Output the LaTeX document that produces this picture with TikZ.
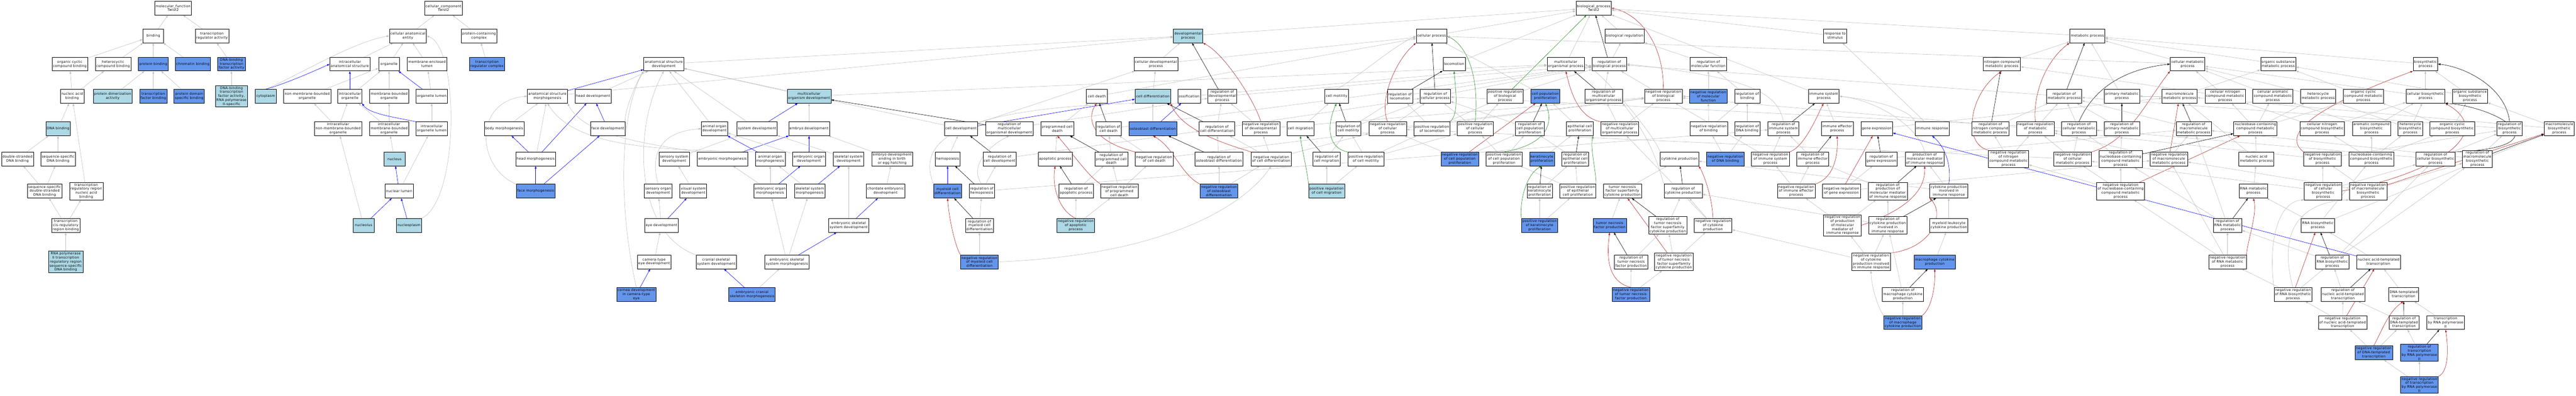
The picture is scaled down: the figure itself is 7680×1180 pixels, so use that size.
\documentclass[tikz,border=0pt]{standalone}
\usepackage{fontspec}
\setmainfont{DejaVu Sans}[LetterSpace=5]
\usepackage{tikz}
\usetikzlibrary{arrows.meta, backgrounds}
\definecolor{lightblue}{HTML}{ADD8E6}
\definecolor{cornflower}{HTML}{6495ED}
\definecolor{edgegray}{HTML}{BEBEBE}
\definecolor{firebrick}{HTML}{B22222}
\definecolor{forestgreen}{HTML}{228B22}
\newcommand{\termfont}{\fontsize{10}{12}\selectfont}
\tikzstyle{term} =
[rectangle, minimum width = 62pt, minimum height = 41pt, inner xsep = 3pt,
inner ysep = 3pt, align = center, font = \termfont, draw=black, line width = 0.8pt, fill=white]
\tikzstyle{termlb} = [term, fill=lightblue]
\tikzstyle{termcb} = [term, fill=cornflower]
\tikzstyle{isa} = [draw=edgegray, line width = 0.9pt, -{Latex[length=8pt,width=6pt]}]
\tikzstyle{partof} = [isa, draw=blue]
\tikzstyle{reg} = [isa, draw=black]
\tikzstyle{negreg} = [isa, draw=firebrick]
\tikzstyle{posreg} = [isa, draw=forestgreen]
\begin{document}
\begin{tikzpicture}[x=1pt, y=-1pt]
  \useasboundingbox (0,0) rectangle (7680,1180);
  % molecular function nodes
  \node [term] (mf) at (516,24) {molecular\_function\\Twist2};
  \node [term] (binding) at (457,107) {binding};
  \node [term] (tra) at (632,107) {transcription\\regulator activity};
  \node [term] (ocb) at (208,191) {organic cyclic\\compound binding};
  \node [term] (hcb) at (337,191) {heterocyclic\\compound binding};
  \node [termcb] (pb) at (457,191) {protein binding};
  \node [termcb] (chb) at (575,191) {chromatin binding};
  \node [termcb] (dbtfa) at (690,191) {DNA-binding\\transcription\\factor activity};
  \node [term] (nab) at (215,287) {nucleic acid\\binding};
  \node [termlb] (pda) at (336,287) {protein dimerization\\activity};
  \node [termcb] (tfb) at (457,287) {transcription\\factor binding};
  \node [termcb] (pdsb) at (564,287) {protein domain\\specific binding};
  \node [termlb] (dbtfa2) at (690,287)
   {DNA-binding\\transcription\\factor activity,\\RNA polymerase\\II-specific};
  \node [termlb] (dnab) at (173,384) {DNA binding};
  \node [term] (dsdna) at (52,474) {double-stranded\\DNA binding};
  \node [term] (ssdna) at (173,474) {sequence-specific\\DNA binding};
  \node [term] (ssds) at (133,570) {sequence-specific\\double-stranded\\DNA binding};
  \node [term] (trrnab) at (257,570)
   {transcription\\regulatory region\\nucleic acid\\binding};
  \node [term] (tcrrb) at (196,672) {transcription\\cis-regulatory\\region binding};
  \node [termlb] (rnap2rr) at (196,781)
   {RNA polymerase\\II transcription\\regulatory region\\sequence-specific\\DNA binding};
  %
  % cellular component nodes
  \node [term] (cc) at (1322,24) {cellular\_component\\Twist2};
  \node [term] (cae) at (1216,107) {cellular anatomical\\entity};
  \node [term] (pcc) at (1428,107) {protein-containing\\complex};
  \node [term] (ias) at (1043,191) {intracellular\\anatomical structure};
  \node [term] (org) at (1160,191) {organelle};
  \node [term] (mel) at (1273,191) {membrane-enclosed\\lumen};
  \node [termcb] (trc) at (1452,191) {transcription\\regulator complex};
  \node [termlb] (cyt) at (792,287) {cytoplasm};
  \node [term] (nmbo) at (916,287) {non-membrane-bounded\\organelle};
  \node [term] (io) at (1043,287) {intracellular\\organelle};
  \node [term] (mbo) at (1160,287) {membrane-bounded\\organelle};
  \node [term] (ol) at (1287,287) {organelle lumen};
  \node [term] (inmbo) at (1008,384) {intracellular\\non-membrane-bounded\\organelle};
  \node [term] (imbo) at (1160,384) {intracellular\\membrane-bounded\\organelle};
  \node [term] (iol) at (1287,384) {intracellular\\organelle lumen};
  \node [termlb] (nuc) at (1176,474) {nucleus};
  \node [term] (nl) at (1190,570) {nuclear lumen};
  \node [termlb] (nucleolus) at (1084,672) {nucleolus};
  \node [termlb] (nucleoplasm) at (1219,672) {nucleoplasm};
  %
  % development nodes
  \node [term] (asm) at (1632,287) {anatomical structure\\morphogenesis};
  \node [term] (hd) at (1768,287) {head development};
  \node [term] (bm) at (1503,384) {body morphogenesis};
  \node [term] (fd) at (1812,384) {face development};
  \node [term] (hm) at (1597,474) {head morphogenesis};
  \node [termcb] (fm) at (1597,570) {face morphogenesis};
  \node [term] (ade) at (1979,191) {anatomical structure\\development};
  \node [termlb] (mod) at (2412,287) {multicellular\\organism development};
  \node [term] (aod) at (2130,384) {animal organ\\development};
  \node [term] (sd) at (2257,384) {system development};
  \node [term] (ed) at (2412,384) {embryo development};
  \node [term] (ssd) at (2010,474) {sensory system\\development};
  \node [term] (emorph) at (2154,474) {embryonic morphogenesis};
  \node [term] (aom) at (2296,474) {animal organ\\morphogenesis};
  \node [term] (eod) at (2412,474) {embryonic organ\\development};
  \node [term] (skd) at (2530,474) {skeletal system\\development};
  \node [term] (sod) at (1962,570) {sensory organ\\development};
  \node [term] (vsd) at (2067,570) {visual system\\development};
  \node [term] (eom) at (2296,570) {embryonic organ\\morphogenesis};
  \node [term] (skm) at (2414,570) {skeletal system\\morphogenesis};
  \node [term] (eyed) at (1972,672) {eye development};
  \node [term] (esd) at (2530,672) {embryonic skeletal\\system development};
  \node [term] (ctype) at (1950,781) {camera-type\\eye development};
  \node [term] (csd) at (2135,781) {cranial skeletal\\system development};
  \node [term] (esm) at (2346,781) {embryonic skeletal\\system morphogenesis};
  \node [termcb] (cornea) at (1897,878) {cornea development\\in camera-type\\eye};
  \node [termcb] (ecsm) at (2242,878) {embryonic cranial\\skeleton morphogenesis};
  \node [term] (edebeh) at (2660,474) {embryo development\\ending in birth\\or egg hatching};
  \node [term] (cedev) at (2640,570) {chordate embryonic\\development};
  %
  % cell development and death nodes
  \node [term] (celldev) at (2865,384) {cell development};
  \node [term] (rmod) at (3009,384) {regulation of\\multicellular\\organismal development};
  \node [term] (pcd) at (3152,384) {programmed cell\\death};
  \node [term] (hemo) at (2825,474) {hemopoiesis};
  \node [term] (rcd) at (2980,474) {regulation of\\cell development};
  \node [term] (apo) at (3146,474) {apoptotic process};
  \node [termcb] (mcd) at (2825,570) {myeloid cell\\differentiation};
  \node [term] (rhemo) at (2927,570) {regulation of\\hemopoiesis};
  \node [term] (rapo) at (3208,570) {regulation of\\apoptotic process};
  \node [term] (rmcd) at (2920,672) {regulation of\\myeloid cell\\differentiation};
  \node [termlb] (napo) at (3207,672) {negative regulation\\of apoptotic\\process};
  \node [termcb] (nrmcd) at (2920,781)
   {negative regulation\\of myeloid cell\\differentiation};
  \node [termlb] (dp) at (3542,107) {developmental\\process};
  \node [term] (cdp) at (3446,191) {cellular developmental\\process};
  \node [term] (celldeath) at (3270,287) {cell death};
  \node [termlb] (cdiff) at (3437,287) {cell differentiation};
  \node [term] (ossif) at (3545,287) {ossification};
  \node [term] (rdp) at (3644,287) {regulation of\\developmental\\process};
  \node [term] (rcdth) at (3305,384) {regulation of\\cell death};
  \node [termcb] (od) at (3437,384) {osteoblast differentiation};
  \node [term] (rcdiff) at (3628,384) {regulation of\\cell differentiation};
  \node [term] (ndp) at (3759,384) {negative regulation\\of developmental\\process};
  \node [term] (rpcd) at (3313,474) {regulation of\\programmed cell\\death};
  \node [term] (ncdth) at (3441,474) {negative regulation\\of cell death};
  \node [term] (rod) at (3634,474) {regulation of\\osteoblast differentiation};
  \node [term] (ncdiff) at (3790,474) {negative regulation\\of cell differentiation};
  \node [term] (npcd) at (3337,570) {negative regulation\\of programmed\\cell death};
  \node [termcb] (nod) at (3634,570)
   {negative regulation\\of osteoblast\\differentiation};
  %
  % cellular process and motility nodes
  \node [term] (cp) at (4268,107) {cellular process};
  \node [term] (loc) at (4335,191) {locomotion};
  \node [term] (cmot) at (3985,287) {cell motility};
  \node [term] (rloc) at (4174,287) {regulation of\\locomotion};
  \node [term] (rcp) at (4279,287) {regulation of\\cellular process};
  \node [term] (pbp) at (4487,287) {positive regulation\\of biological\\process};
  \node [term] (cellmig) at (3877,384) {cell migration};
  \node [term] (rcmot) at (4020,384) {regulation of\\cell motility};
  \node [term] (ncp) at (4137,384) {negative regulation\\of cellular\\process};
  \node [term] (ploc) at (4269,384) {positive regulation\\of locomotion};
  \node [term] (pcp) at (4398,384) {positive regulation\\of cellular\\process};
  \node [term] (rcmig) at (3955,474) {regulation of\\cell migration};
  \node [term] (pcmot) at (4072,474) {positive regulation\\of cell motility};
  \node [termcb] (ncpp) at (4352,474)
   {negative regulation\\of cell population\\proliferation};
  \node [term] (pcpp) at (4484,474)
   {positive regulation\\of cell population\\proliferation};
  \node [termlb] (pcmig) at (3955,570) {positive regulation\\of cell migration};
  %
  % biological process and proliferation nodes
  \node [term] (bp) at (4751,24) {biological\_process\\Twist2};
  \node [term] (br) at (4843,107) {biological regulation};
  \node [term] (mop) at (4668,191) {multicellular\\organismal process};
  \node [term] (rbp) at (4798,191) {regulation of\\biological process};
  \node [term] (rmf) at (5093,191) {regulation of\\molecular function};
  \node [termcb] (cpp) at (4607,287) {cell population\\proliferation};
  \node [term] (rmop) at (4781,287) {regulation of\\multicellular\\organismal process};
  \node [term] (nbp) at (4959,287) {negative regulation\\of biological\\process};
  \node [termcb] (nmf) at (5093,287) {negative regulation\\of molecular\\function};
  \node [term] (rcpp) at (4561,384) {regulation of\\cell population\\proliferation};
  \node [term] (ecp) at (4710,384) {epithelial cell\\proliferation};
  \node [term] (nmop) at (4829,384)
   {negative regulation\\of multicellular\\organismal process};
  \node [term] (nbind) at (5094,384) {negative regulation\\of binding};
  \node [termcb] (kp) at (4597,474) {keratinocyte\\proliferation};
  \node [term] (recp) at (4696,474) {regulation of\\epithelial cell\\proliferation};
  \node [term] (cytp) at (5007,474) {cytokine production};
  \node [termcb] (ndnab) at (5144,474) {negative regulation\\of DNA binding};
  \node [term] (rkp) at (4590,570) {regulation of\\keratinocyte\\proliferation};
  \node [term] (pecp) at (4704,570)
   {positive regulation\\of epithelial\\cell proliferation};
  \node [term] (tnfsf) at (4837,570)
   {tumor necrosis\\factor superfamily\\cytokine production};
  \node [term] (rcytp) at (5018,570) {regulation of\\cytokine production};
  \node [termcb] (pkp) at (4590,672)
   {positive regulation\\of keratinocyte\\proliferation};
  \node [termcb] (tnfp) at (4799,672) {tumor necrosis\\factor production};
  \node [term] (rtnfsf) at (4972,672)
   {regulation of\\tumor necrosis\\factor superfamily\\cytokine production};
  \node [term] (ncytp) at (5107,672) {negative regulation\\of cytokine\\production};
  \node [term] (rtnfp) at (4863,781) {regulation of\\tumor necrosis\\factor production};
  \node [term] (ntnfsf) at (4990,781)
   {negative regulation\\of tumor necrosis\\factor superfamily\\cytokine production};
  \node [termcb] (ntnfp) at (4862,878)
   {negative regulation\\of tumor necrosis\\factor production};
  %
  % immune system nodes
  \node [term] (rts) at (5471,107) {response to\\stimulus};
  \node [term] (rbind) at (5209,287) {regulation of\\binding};
  \node [term] (isp) at (5437,287) {immune system\\process};
  \node [term] (rdnab) at (5209,384) {regulation of\\DNA binding};
  \node [term] (risp) at (5317,384) {regulation of\\immune system\\process};
  \node [term] (iep) at (5477,384) {immune effector\\process};
  \node [term] (ge) at (5595,384) {gene expression};
  \node [term] (ir) at (5760,384) {immune response};
  \node [term] (nisp) at (5278,474) {negative regulation\\of immune system\\process};
  \node [term] (riep) at (5404,474) {regulation of\\immune effector\\process};
  \node [term] (rge) at (5609,474) {regulation of\\gene expression};
  \node [term] (pmmir) at (5738,474)
   {production of\\molecular mediator\\of immune response};
  \node [term] (niep) at (5355,570)
   {negative regulation\\of immune effector\\process};
  \node [term] (nge) at (5490,570) {negative regulation\\of gene expression};
  \node [term] (rpmmir) at (5628,570)
   {regulation of\\production of\\molecular mediator\\of immune response};
  \node [term] (cpir) at (5810,570)
   {cytokine production\\involved in\\immune response};
  \node [term] (npmmir) at (5493,672)
   {negative regulation\\of production\\of molecular\\mediator of\\immune response};
  \node [term] (rcpir) at (5628,672)
   {regulation of\\cytokine production\\involved in\\immune response};
  \node [term] (mlcp) at (5810,672) {myeloid leukocyte\\cytokine production};
  \node [term] (ncpir) at (5578,781)
   {negative regulation\\of cytokine\\production involved\\in immune response};
  \node [termcb] (mcp) at (5768,781) {macrophage cytokine\\production};
  \node [term] (rmcp) at (5673,878)
   {regulation of\\macrophage cytokine\\production};
  \node [termcb] (nmcp) at (5673,962)
   {negative regulation\\of macrophage\\cytokine production};
  %
  % metabolic process nodes
  \node [term] (metp) at (6223,107) {metabolic process};
  \node [term] (ncmp) at (5968,191) {nitrogen compound\\metabolic process};
  \node [term] (rmetp) at (6154,287) {regulation of\\metabolic process};
  \node [term] (pmp) at (6326,287) {primary metabolic\\process};
  \node [term] (rncmp) at (5934,384)
   {regulation of\\nitrogen compound\\metabolic process};
  \node [term] (nmetp) at (6068,384) {negative regulation\\of metabolic\\process};
  \node [term] (rcmp) at (6198,384) {regulation of\\cellular metabolic\\process};
  \node [term] (rpmp) at (6326,384) {regulation of\\primary metabolic\\process};
  \node [term] (nncmp) at (5988,474)
   {negative regulation\\of nitrogen\\compound metabolic\\process};
  \node [term] (ncmp2) at (6179,474)
   {negative regulation\\of cellular\\metabolic process};
  \node [term] (rnbcmp) at (6322,474)
   {regulation of\\nucleobase-containing\\compound metabolic\\process};
  \node [term] (nnbcmp) at (6322,570)
   {negative regulation\\of nucleobase-containing\\compound metabolic\\process};
  \node [term] (cmp) at (6522,191) {cellular metabolic\\process};
  \node [term] (osmp) at (6792,191) {organic substance\\metabolic process};
  \node [term] (macmp) at (6498,287) {macromolecule\\metabolic process};
  \node [term] (cncmp) at (6634,287)
   {cellular nitrogen\\compound metabolic\\process};
  \node [term] (camp) at (6776,287)
   {cellular aromatic\\compound metabolic\\process};
  \node [term] (hmp) at (6911,287) {heterocycle\\metabolic process};
  \node [term] (ocmp) at (7046,287) {organic cyclic\\compound metabolic\\process};
  \node [term] (rmacmp) at (6540,384)
   {regulation of\\macromolecule\\metabolic process};
  \node [term] (nbcmp) at (6724,384)
   {nucleobase-containing\\compound metabolic\\process};
  \node [term] (cncbp) at (6923,384)
   {cellular nitrogen\\compound biosynthetic\\process};
  \node [term] (acbp) at (7070,384) {aromatic compound\\biosynthetic\\process};
  \node [term] (nmacmp) at (6466,474)
   {negative regulation\\of macromolecule\\metabolic process};
  \node [term] (namp) at (6727,474) {nucleic acid\\metabolic process};
  \node [term] (nbsp) at (6924,474)
   {negative regulation\\of biosynthetic\\process};
  \node [term] (nbcbp) at (7070,474)
   {nucleobase-containing\\compound biosynthetic\\process};
  \node [term] (rnamp) at (6718,570) {RNA metabolic\\process};
  \node [term] (ncbsp) at (6926,570)
   {negative regulation\\of cellular\\biosynthetic\\process};
  \node [term] (nmbsp) at (7060,570)
   {negative regulation\\of macromolecule\\biosynthetic\\process};
  \node [term] (rrnamp) at (6641,672) {regulation of\\RNA metabolic\\process};
  \node [term] (rnabp) at (6910,672) {RNA biosynthetic\\process};
  \node [term] (nrnamp) at (6641,781)
   {negative regulation\\of RNA metabolic\\process};
  \node [term] (rrnabp) at (6953,781) {regulation of\\RNA biosynthetic\\process};
  \node [term] (natt) at (7091,781) {nucleic acid-templated\\transcription};
  \node [term] (nrnabp) at (6836,878)
   {negative regulation\\of RNA biosynthetic\\process};
  \node [term] (rnatt) at (6985,878)
   {regulation of\\nucleic acid-templated\\transcription};
  \node [term] (nnatt) at (6984,962)
   {negative regulation\\of nucleic acid-templated\\transcription};
  %
  % biosynthesis and transcription nodes
  \node [term] (bsp) at (7231,191) {biosynthetic\\process};
  \node [term] (cbsp) at (7231,287) {cellular biosynthetic\\process};
  \node [term] (osbp) at (7364,287) {organic substance\\biosynthetic\\process};
  \node [term] (hbp) at (7186,384) {heterocycle\\biosynthetic\\process};
  \node [term] (ocbp) at (7311,384) {organic cyclic\\compound biosynthetic\\process};
  \node [term] (rbsp) at (7482,384) {regulation of\\biosynthetic\\process};
  \node [term] (macbp) at (7630,384) {macromolecule\\biosynthetic\\process};
  \node [term] (rcbsp) at (7261,474)
   {regulation of\\cellular biosynthetic\\process};
  \node [term] (rmacbp) at (7386,474)
   {regulation of\\macromolecule\\biosynthetic\\process};
  \node [term] (dtt) at (7166,878) {DNA-templated\\transcription};
  \node [term] (rdtt) at (7167,962) {regulation of\\DNA-templated\\transcription};
  \node [term] (trnap2) at (7291,962) {transcription\\by RNA polymerase\\II};
  \node [termcb] (ndtt) at (7077,1052)
   {negative regulation\\of DNA-templated\\transcription};
  \node [termcb] (rtrnap2) at (7213,1052)
   {regulation of\\transcription\\by RNA polymerase\\II};
  \node [termcb] (ntrnap2) at (7213,1148)
   {negative regulation\\of transcription\\by RNA polymerase\\II};
  %
  \begin{pgfonlayer}{background}
  \fill [white] (0,0) rectangle (7680,1180);
  % molecular function edges
  \path [isa] (binding) -- (mf);
  \path [isa] (tra) -- (mf);
  \path [isa] (ocb) -- (binding);
  \path [isa] (hcb) -- (binding);
  \path [isa] (pb) -- (binding);
  \path [isa] (chb) -- (binding);
  \path [isa] (nab) -- (ocb);
  \path [isa] (nab) -- (hcb);
  \path [isa] (pda) -- (pb);
  \path [isa] (tfb) -- (pb);
  \path [isa] (pdsb) -- (pb);
  \path [isa] (dnab) -- (nab);
  \path [isa] (dsdna) -- (dnab);
  \path [isa] (ssdna) -- (dnab);
  \path [isa] (ssds) -- (dsdna);
  \path [isa] (ssds) -- (ssdna);
  \path [isa] (trrnab) -- (nab);
  \path [isa] (tcrrb) -- (ssds);
  \path [isa] (tcrrb) -- (trrnab);
  \path [isa] (rnap2rr) -- (tcrrb);
  \path [isa] (dbtfa) -- (tra);
  \path [isa] (dbtfa2) -- (dbtfa);
  % cellular component edges
  \path [isa] (cae) -- (cc);
  \path [isa] (pcc) -- (cc);
  \path [isa] (trc) -- (pcc);
  \path [isa] (ias) -- (cae);
  \path [isa] (org) -- (cae);
  \path [isa] (mel) -- (cae);
  \path [isa] (cyt.north) .. controls (880,230) and (1050,125) .. (cae.west);
  \path [partof] (cyt.north) .. controls (850,250) and (930,215) .. (ias.west);
  \path [isa] (nmbo) -- (org);
  \path [isa] (io) -- (org);
  \path [partof] (io) -- (ias);
  \path [isa] (mbo) -- (org);
  \path [partof] (ol) -- (org);
  \path [isa] (ol) -- (mel);
  \path [isa] (inmbo) -- (nmbo);
  \path [isa] (inmbo) -- (io);
  \path [isa] (imbo) -- (io);
  \path [isa] (imbo) -- (mbo);
  \path [partof] (iol.north west) .. controls (1180,350) and (1100,340) .. (io.south east);
  \path [isa] (iol) -- (ol);
  \path [isa] (nuc) -- (imbo);
  \path [partof] (nl) -- (nuc);
  \path [isa] (nl) -- (iol);
  \path [isa] (nucleolus) -- (inmbo);
  \path [partof] (nucleolus) -- (nl);
  \path [partof] (nucleoplasm) -- (nl);
  \path [isa] (nucleoplasm.north east) .. controls (1370,600) and (1370,140) .. (cae.east);
  % development edges
  \path [isa] (ade) -- (dp);
  \path [isa] (asm) -- (dp);
  \path [partof] (asm) -- (ade);
  \path [isa] (hd) -- (ade);
  \path [isa] (bm) -- (asm);
  \path [partof] (hm) -- (bm);
  \path [isa] (hm) -- (asm);
  \path [partof] (hm) -- (hd);
  \path [partof] (fd) -- (hd);
  \path [isa] (fd.north east) .. controls (1860,330) and (1900,240) .. (ade.south west);
  \path [partof] (fm) -- (hm);
  \path [partof] (fm) -- (fd);
  \path [isa] (fm.north west) .. controls (1420,500) and (1410,300) .. (asm.west);
  \path [isa] (mod) -- (ade);
  \path [isa] (mod) -- (mop);
  \path [isa] (aod) -- (ade);
  \path [isa] (sd) -- (ade);
  \path [partof] (sd) -- (mod);
  \path [isa] (ed) -- (mod);
  \path [partof] (emorph) -- (ed);
  \path [isa] (emorph.north west) .. controls (1900,425) and (1740,400) .. (asm.south east);
  \path [partof] (aom) -- (aod);
  \path [isa] (aom.north west) .. controls (2000,445) and (1720,450) .. (asm.south);
  \path [partof] (eod) -- (ed);
  \path [isa] (eod) -- (aod);
  \path [isa] (skd) -- (sd);
  \path [isa] (ssd) -- (sd);
  \path [isa] (sod.north) .. controls (1930,430) and (2000,390) .. (aod.west);
  \path [isa] (vsd) -- (ssd);
  \path [isa] (eyed) -- (sod);
  \path [partof] (eyed) -- (vsd);
  \path [isa] (ctype) -- (eyed);
  \path [partof] (cornea) -- (ctype);
  \path [isa] (cornea.north) .. controls (1840,600) and (1850,330) .. (ade.south west);
  \path [isa] (csd.north west) .. controls (1900,700) and (1880,400) .. (ade.south);
  \path [isa] (eom) -- (aom);
  \path [partof] (eom) -- (eod);
  \path [isa] (eom) -- (emorph);
  \path [isa] (skm) -- (aom);
  \path [partof] (skm) -- (skd);
  \path [isa] (esd) -- (skd);
  \path [partof] (esd) -- (cedev);
  \path [isa] (esm) -- (eom);
  \path [isa] (esm) -- (skm);
  \path [partof] (esm) -- (esd);
  \path [partof] (ecsm) -- (csd);
  \path [isa] (ecsm) -- (esm);
  \path [isa] (edebeh) -- (ed);
  \path [isa] (cedev) -- (edebeh);
  % cell development and death edges
  \path [isa] (celldev) -- (ade);
  \path [partof] (celldev) -- (cdiff);
  \path [isa] (celldev) -- (cdp);
  \path [reg] (rmod) -- (mod);
  \path [isa] (rmod) -- (rdp);
  \path [isa] (hemo) -- (celldev);
  \path [reg] (rcd) -- (celldev);
  \path [isa] (rcd) -- (rcdiff);
  \path [reg] (rhemo) -- (hemo);
  \path [isa] (rhemo.north) .. controls (2890,500) and (2940,440) .. (rmod.south);
  \path [isa] (rhemo) -- (rcd);
  \path [isa] (rhemo) -- (risp);
  \path [partof] (mcd) -- (hemo);
  \path [isa] (mcd.north west) .. controls (2740,440) and (2800,325) .. (cdiff.south west);
  \path [reg] (rmcd) -- (mcd);
  \path [isa] (rmcd) -- (rhemo);
  \path [negreg] (nrmcd.north west) .. controls (2850,740) and (2830,660) .. (mcd.south);
  \path [isa] (nrmcd) -- (rmcd);
  \path [isa] (nrmcd.east) .. controls (3500,760) and (3720,600) .. (ncdiff.south);
  \path [isa] (pcd) -- (celldeath);
  \path [isa] (apo) -- (pcd);
  \path [reg] (rapo) -- (apo);
  \path [isa] (rapo) -- (rpcd);
  \path [negreg] (napo.north) .. controls (3160,630) and (3135,560) .. (apo.south);
  \path [isa] (napo) -- (rapo);
  \path [isa] (napo) -- (npcd);
  \path [isa] (celldeath) -- (cp);
  \path [isa] (cdp) -- (dp);
  \path [isa] (cdp) -- (cp);
  \path [isa] (cdiff) -- (cdp);
  \path [isa] (od) -- (cdiff);
  \path [partof] (od) -- (ossif);
  \path [isa] (ossif) -- (mop);
  \path [reg] (rdp) -- (dp);
  \path [isa] (rdp) -- (rbp);
  \path [negreg] (ndp.north) .. controls (3740,300) and (3650,160) .. (dp.south east);
  \path [isa] (ndp) -- (rdp);
  \path [isa] (ndp) -- (nbp);
  \path [reg] (rcdth) -- (celldeath);
  \path [isa] (rcdth) -- (rbp);
  \path [reg] (rcdiff) -- (cdiff);
  \path [isa] (rcdiff) -- (rdp);
  \path [isa] (rcdiff) -- (rcp);
  \path [isa] (rpcd) -- (rcdth);
  \path [reg] (rpcd) -- (pcd);
  \path [isa] (ncdth) -- (rcdth);
  \path [negreg] (ncdth.north west) .. controls (3250,420) and (3240,350) .. (celldeath.south);
  \path [isa] (ncdth) -- (nbp);
  \path [reg] (rod) -- (od);
  \path [isa] (rod) -- (rcdiff);
  \path [isa] (ncdiff) -- (rcdiff);
  \path [negreg] (ncdiff.north west) .. controls (3620,420) and (3520,380) .. (cdiff.south east);
  \path [isa] (ncdiff) -- (ndp);
  \path [isa] (ncdiff) -- (ncp);
  \path [isa] (npcd) -- (rpcd);
  \path [isa] (npcd) -- (ncdth);
  \path [negreg] (npcd.north west) .. controls (3240,520) and (3200,460) .. (pcd.south);
  \path [isa] (nod) -- (rod);
  \path [negreg] (nod.north west) .. controls (3520,520) and (3500,440) .. (od.south);
  \path [isa] (nod) -- (ncdiff);
  % cellular process and motility edges
  \path [isa] (cellmig) -- (cmot);
  \path [isa] (cmot.north) .. controls (4050,230) and (4150,140) .. (cp.west);
  \path [reg] (rcmot) -- (cmot);
  \path [isa] (rcmot) -- (rcp);
  \path [isa] (rcmot) -- (rloc);
  \path [reg] (rcmig) -- (cellmig);
  \path [isa] (rcmig) -- (rcmot);
  \path [posreg] (pcmig.north west) .. controls (3900,520) and (3880,440) .. (cellmig.south);
  \path [isa] (pcmig) -- (rcmig);
  \path [isa] (pcmig) -- (pcmot);
  \path [posreg] (pcmot.north west) .. controls (3950,440) and (3960,360) .. (cmot.south);
  \path [isa] (pcmot) -- (rcmot);
  \path [isa] (pcmot) -- (pcp);
  \path [isa] (pcmot) -- (ploc);
  \path [reg] (rloc) -- (loc);
  \path [isa] (rloc) -- (rbp);
  \path [reg] (rcp) -- (cp);
  \path [isa] (rcp) -- (rbp);
  \path [negreg] (ncp.north) .. controls (4110,300) and (4160,180) .. (cp.south west);
  \path [isa] (ncp) -- (rcp);
  \path [isa] (ncp) -- (nbp);
  \path [posreg] (ploc.north east) .. controls (4350,340) and (4340,270) .. (loc.south);
  \path [isa] (ploc) -- (rloc);
  \path [isa] (ploc) -- (pbp);
  \path [posreg] (pcp.north) .. controls (4410,240) and (4380,140) .. (cp.east);
  \path [isa] (pcp) -- (rcp);
  \path [isa] (pcp) -- (pbp);
  \path [posreg] (pbp) -- (bp);
  \path [isa] (pbp) -- (rbp);
  \path [negreg] (ncpp) -- (cpp);
  \path [isa] (ncpp) -- (rcpp);
  \path [isa] (ncpp) -- (ncp);
  \path [posreg] (pcpp.north) .. controls (4620,430) and (4630,360) .. (cpp.south);
  \path [isa] (pcpp) -- (rcpp);
  \path [isa] (pcpp) -- (pcp);
  \path [isa] (cp) -- (bp);
  \path [isa] (loc) -- (bp);
  % biological process and proliferation edges
  \path [isa] (dp) -- (bp);
  \path [isa] (mop) -- (bp);
  \path [reg] (rbp) -- (bp);
  \path [isa] (br) -- (bp);
  \path [isa] (rbp) -- (br);
  \path [negreg] (nbp.north) .. controls (4960,120) and (4880,40) .. (bp.east);
  \path [isa] (nbp) -- (rbp);
  \path [isa] (rmf) -- (br);
  \path [isa] (nmf) -- (rmf);
  \path [isa] (nmf) -- (nbp);
  \path [isa] (cpp) -- (cp);
  \path [reg] (rmop) -- (mop);
  \path [isa] (rmop) -- (rbp);
  \path [isa] (nmop) -- (rmop);
  \path [isa] (nmop) -- (nbp);
  \path [negreg] (nmop.north west) .. controls (4700,350) and (4680,260) .. (mop.south);
  \path [reg] (rcpp) -- (cpp);
  \path [isa] (rcpp) -- (rcp);
  \path [isa] (ecp) -- (cpp);
  \path [reg] (recp) -- (ecp);
  \path [isa] (recp) -- (rcpp);
  \path [posreg] (pecp.north east) .. controls (4760,520) and (4740,440) .. (ecp.south east);
  \path [isa] (pecp) -- (recp);
  \path [isa] (pecp) -- (pcpp);
  \path [isa] (kp) -- (ecp);
  \path [reg] (rkp) -- (kp);
  \path [isa] (rkp) -- (recp);
  \path [posreg] (pkp.north west) .. controls (4530,600) and (4550,520) .. (kp.south);
  \path [isa] (pkp) -- (rkp);
  \path [isa] (pkp) -- (pecp);
  \path [isa] (cytp.north west) .. controls (4930,400) and (4780,220) .. (mop.east);
  \path [isa] (tnfsf) -- (cytp);
  \path [reg] (rcytp) -- (cytp);
  \path [isa] (rcytp.north west) .. controls (4950,520) and (4930,420) .. (rmop.south east);
  \path [negreg] (ncytp.north) .. controls (5105,590) and (5080,520) .. (cytp.south east);
  \path [isa] (ncytp) -- (rcytp);
  \path [isa] (ncytp) -- (nmop);
  \path [isa] (tnfp) -- (tnfsf);
  \path [reg] (rtnfsf) -- (tnfsf);
  \path [isa] (rtnfsf) -- (rcytp);
  \path [negreg] (ntnfsf) -- (tnfsf);
  \path [isa] (ntnfsf) -- (rtnfsf);
  \path [isa] (ntnfsf) -- (ncytp);
  \path [reg] (rtnfp) -- (tnfp);
  \path [isa] (rtnfp) -- (rtnfsf);
  \path [negreg] (ntnfp.north) .. controls (4790,840) and (4790,760) .. (tnfp.south);
  \path [isa] (ntnfp) -- (rtnfp);
  \path [isa] (ntnfp) -- (ntnfsf);
  % immune system edges
  \path [isa] (rts) -- (bp);
  \path [isa] (isp) -- (bp);
  \path [isa] (rbind) -- (rmf);
  \path [isa] (rdnab) -- (rbind);
  \path [isa] (ndnab) -- (rdnab);
  \path [isa] (ndnab) -- (nbind);
  \path [isa] (nbind) -- (rbind);
  \path [isa] (nbind) -- (nmf);
  \path [reg] (risp) -- (isp);
  \path [isa] (risp.north) .. controls (5300,270) and (5200,230) .. (rbp.east);
  \path [negreg] (nisp.north east) .. controls (5380,440) and (5420,340) .. (isp.south);
  \path [isa] (nisp) -- (risp);
  \path [isa] (nisp) -- (nbp);
  \path [isa] (iep) -- (isp);
  \path [reg] (riep) -- (iep);
  \path [isa] (riep) -- (risp);
  \path [negreg] (niep.north east) .. controls (5470,530) and (5480,460) .. (iep.south);
  \path [isa] (niep) -- (riep);
  \path [isa] (niep) -- (nisp);
  \path [isa] (ge) -- (macmp);
  \path [reg] (rge) -- (ge);
  \path [isa] (rge) -- (rmacmp);
  \path [negreg] (nge) -- (ge);
  \path [isa] (nge) -- (rge);
  \path [isa] (nge) -- (nmacmp);
  \path [isa] (ir.north west) .. controls (5700,330) and (5600,300) .. (isp.east);
  \path [isa] (ir) -- (rts);
  \path [isa] (pmmir.north) .. controls (5720,380) and (5600,300) .. (isp.east);
  \path [reg] (rpmmir) -- (pmmir);
  \path [isa] (rpmmir) -- (riep);
  \path [negreg] (npmmir.east) .. controls (5700,620) and (5740,560) .. (pmmir.south);
  \path [isa] (npmmir) -- (rpmmir);
  \path [isa] (npmmir) -- (niep);
  \path [isa] (cpir) -- (pmmir);
  \path [isa] (cpir) -- (cytp);
  \path [partof] (cpir.north) .. controls (5820,480) and (5790,430) .. (ir.south);
  \path [isa] (rcpir) -- (rpmmir);
  \path [reg] (rcpir) -- (cpir);
  \path [isa] (rcpir) -- (rcytp);
  \path [isa] (ncpir) -- (npmmir);
  \path [isa] (ncpir) -- (rcpir);
  \path [negreg] (ncpir.north east) .. controls (5760,740) and (5800,640) .. (cpir.south west);
  \path [isa] (ncpir) -- (ncytp);
  \path [isa] (mlcp) -- (cpir);
  \path [isa] (mcp) -- (mlcp);
  \path [reg] (rmcp) -- (mcp);
  \path [isa] (rmcp) -- (rcpir);
  \path [isa] (nmcp) -- (rmcp);
  \path [negreg] (nmcp.north east) .. controls (5760,920) and (5770,850) .. (mcp.south);
  \path [isa] (nmcp.north west) .. controls (5600,920) and (5580,860) .. (ncpir.south);
  % metabolic process edges
  \path [isa] (metp) -- (bp);
  \path [isa] (ncmp) -- (metp);
  \path [reg] (rmetp) -- (metp);
  \path [isa] (rmetp) -- (rbp);
  \path [negreg] (nmetp.north) .. controls (6060,280) and (6100,180) .. (metp.south west);
  \path [isa] (nmetp) -- (rmetp);
  \path [isa] (nmetp) -- (nbp);
  \path [isa] (pmp) -- (metp);
  \path [reg] (rncmp) -- (ncmp);
  \path [isa] (rncmp) -- (rmetp);
  \path [negreg] (nncmp.north west) .. controls (5850,430) and (5870,280) .. (ncmp.south);
  \path [isa] (nncmp) -- (rncmp);
  \path [isa] (nncmp) -- (nmetp);
  \path [reg] (rcmp.north) .. controls (6230,290) and (6300,210) .. (cmp.west);
  \path [isa] (rcmp) -- (rmetp);
  \path [isa] (rcmp) -- (rcp);
  \path [reg] (rpmp) -- (pmp);
  \path [isa] (rpmp) -- (rmetp);
  \path [isa] (ncmp2) -- (nmetp);
  \path [isa] (ncmp2) -- (rcmp);
  \path [negreg] (ncmp2.north east) .. controls (6350,420) and (6400,300) .. (cmp.south west);
  \path [isa] (ncmp2) -- (ncp);
  \path [isa] (rnbcmp) -- (rpmp);
  \path [isa] (rnbcmp) -- (rcmp);
  \path [reg] (rnbcmp) -- (nbcmp);
  \path [isa] (nnbcmp) -- (rnbcmp);
  \path [isa] (nnbcmp) -- (ncmp2);
  \path [isa] (nnbcmp) -- (nncmp);
  \path [negreg] (nnbcmp) -- (nbcmp);
  \path [isa] (cmp) -- (metp);
  \path [isa] (cmp) -- (cp);
  \path [isa] (osmp) -- (metp);
  \path [isa] (macmp) -- (osmp);
  \path [isa] (macmp) -- (pmp);
  \path [isa] (cncmp) -- (cmp);
  \path [isa] (cncmp) -- (ncmp);
  \path [isa] (camp) -- (cmp);
  \path [isa] (hmp) -- (cmp);
  \path [isa] (ocmp) -- (osmp);
  \path [reg] (rmacmp) -- (macmp);
  \path [isa] (rmacmp) -- (rmetp);
  \path [isa] (nbcmp) -- (cncmp);
  \path [isa] (nbcmp) -- (camp);
  \path [isa] (nbcmp) -- (hmp);
  \path [isa] (nbcmp) -- (ocmp);
  \path [isa] (cncbp) -- (cncmp);
  \path [isa] (cncbp) -- (cbsp);
  \path [isa] (acbp) -- (camp);
  \path [isa] (acbp) -- (cbsp);
  \path [negreg] (nmacmp) -- (macmp);
  \path [isa] (nmacmp) -- (rmacmp);
  \path [isa] (nmacmp) -- (nmetp);
  \path [isa] (namp) -- (nbcmp);
  \path [isa] (namp) -- (macmp);
  \path [negreg] (nbsp.north west) .. controls (6800,400) and (6900,320) .. (bsp.south west);
  \path [isa] (nbsp) -- (rbsp);
  \path [isa] (nbsp) -- (nmetp);
  \path [isa] (nbcbp) -- (hbp);
  \path [isa] (nbcbp) -- (ocbp);
  \path [isa] (nbcbp) -- (acbp);
  \path [isa] (nbcbp) -- (cncbp);
  \path [isa] (rnamp) -- (namp);
  \path [isa] (ncbsp) -- (nbsp);
  \path [negreg] (ncbsp.east) .. controls (7250,520) and (7450,400) .. (cbsp.south east);
  \path [isa] (ncbsp) -- (rcbsp);
  \path [isa] (ncbsp) -- (ncmp2);
  \path [negreg] (nmbsp) -- (macbp);
  \path [isa] (nmbsp) -- (nbsp);
  \path [isa] (nmbsp) -- (rmacbp);
  \path [isa] (nmbsp) -- (nmacmp);
  \path [reg] (rrnamp) -- (rnamp);
  \path [isa] (rrnamp) -- (rmacmp);
  \path [isa] (rrnamp) -- (rnbcmp);
  \path [isa] (rnabp) -- (rnamp);
  \path [isa] (rnabp) -- (nbcbp);
  \path [isa] (rnabp) -- (macbp);
  \path [negreg] (nrnamp.north east) .. controls (6700,720) and (6730,640) .. (rnamp.south);
  \path [isa] (nrnamp) -- (rrnamp);
  \path [isa] (nrnamp) -- (nmacmp);
  \path [isa] (nrnamp) -- (nnbcmp);
  \path [reg] (rrnabp) -- (rnabp);
  \path [isa] (rrnabp) -- (rrnamp);
  \path [isa] (rrnabp) -- (rcbsp);
  \path [isa] (rrnabp) -- (rmacbp);
  \path [isa] (natt) -- (rnabp);
  \path [partof] (natt) -- (ge);
  \path [reg] (rnatt) -- (natt);
  \path [isa] (rnatt) -- (rrnabp);
  \path [negreg] (nrnabp) -- (rnabp);
  \path [isa] (nrnabp) -- (rrnabp);
  \path [isa] (nrnabp) -- (nrnamp);
  \path [isa] (nrnabp.north west) .. controls (6760,700) and (6800,600) .. (ncbsp.south west);
  \path [isa] (nrnabp.north) .. controls (6780,650) and (6900,600) .. (nmbsp.south west);
  \path [negreg] (nnatt) -- (natt);
  \path [isa] (nnatt) -- (rnatt);
  \path [isa] (nnatt) -- (nrnabp);
  \path [isa] (dtt) -- (natt);
  \path [reg] (rdtt) -- (dtt);
  \path [isa] (rdtt) -- (rnatt);
  \path [isa] (trnap2) -- (dtt);
  \path [reg] (rtrnap2) -- (trnap2);
  \path [isa] (rtrnap2) -- (rdtt);
  \path [negreg] (ndtt.north) .. controls (7100,990) and (7120,930) .. (dtt.south);
  \path [isa] (ndtt) -- (rdtt);
  \path [isa] (ndtt) -- (nnatt);
  \path [negreg] (ntrnap2.north east) .. controls (7300,1110) and (7300,1040) .. (trnap2.south);
  \path [isa] (ntrnap2) -- (rtrnap2);
  \path [isa] (ntrnap2) -- (ndtt);
  % biosynthesis edges
  \path [isa] (bsp) -- (metp);
  \path [isa] (cbsp) -- (bsp);
  \path [isa] (cbsp) -- (cmp);
  \path [isa] (osbp) -- (bsp);
  \path [isa] (osbp) -- (osmp);
  \path [isa] (hbp) -- (cbsp);
  \path [isa] (hbp) -- (hmp);
  \path [isa] (ocbp) -- (osbp);
  \path [isa] (ocbp) -- (ocmp);
  \path [reg] (rbsp.north) .. controls (7470,260) and (7350,200) .. (bsp.east);
  \path [isa] (rbsp) -- (rmetp);
  \path [reg] (rcbsp.north east) .. controls (7650,440) and (7450,320) .. (cbsp.south east);
  \path [isa] (rcbsp) -- (rbsp);
  \path [isa] (rcbsp) -- (rcmp);
  \path [reg] (rmacbp) -- (macbp);
  \path [isa] (rmacbp) -- (rbsp);
  \path [isa] (rmacbp) -- (rmacmp);
  \path [isa] (macbp) -- (osbp);
  \path [isa] (macbp) -- (macmp);
  \end{pgfonlayer}
\end{tikzpicture}
\end{document}
